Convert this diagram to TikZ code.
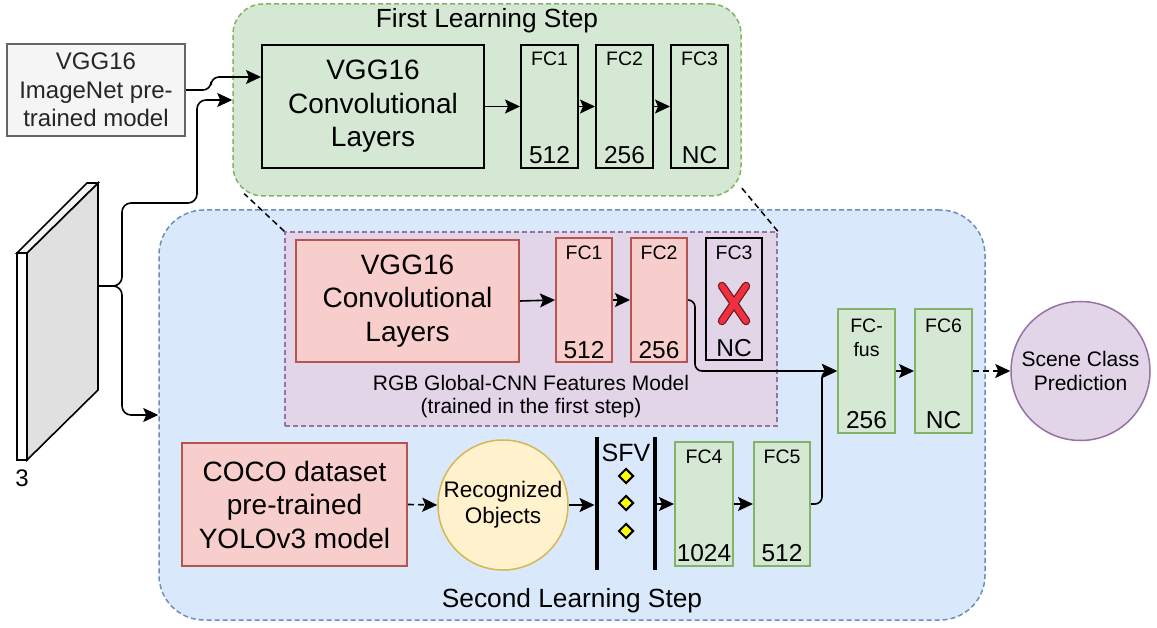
\documentclass[tikz,border=0pt]{standalone}
\usepackage{fontspec}
\setmainfont{Liberation Sans}
\usetikzlibrary{shapes.geometric,arrows.meta,calc}
\definecolor{grfill}{HTML}{D5E8D4}
\definecolor{grline}{HTML}{82B366}
\definecolor{blfill}{HTML}{DAE8FC}
\definecolor{blline}{HTML}{6C8EBF}
\definecolor{pufill}{HTML}{E1D5E7}
\definecolor{puline}{HTML}{9673A6}
\definecolor{pkfill}{HTML}{F8CECC}
\definecolor{pkline}{HTML}{B85450}
\definecolor{yefill}{HTML}{FFF2CC}
\definecolor{yeline}{HTML}{D6B656}
\definecolor{gyfill}{HTML}{F5F5F5}
\definecolor{gyline}{HTML}{666666}
\definecolor{xred}{HTML}{F0303F}
\definecolor{xdark}{HTML}{6A1A20}
\definecolor{diayel}{HTML}{FFFF00}
\begin{document}
\begin{tikzpicture}[x=1pt,y=-1pt,
  box/.style={draw, rectangle, inner sep=0pt, line width=2pt},
  fcbox/.style={box, minimum width=57pt, minimum height=123pt},
  greenbox/.style={fcbox, fill=grfill, draw=grline},
  pinkbox/.style={box, fill=pkfill, draw=pkline},
  txt/.style={inner sep=0pt, align=center},
  bigtxt/.style={txt, font=\fontsize{28}{33.5}\selectfont},
  fclab/.style={txt, font=\fontsize{19.5}{24}\selectfont},
  numlab/.style={txt, font=\fontsize{24.5}{28}\selectfont},
  titletxt/.style={txt, font=\fontsize{26.3}{30}\selectfont},
  arr/.style={-{Stealth[length=15pt,width=14pt,inset=3pt]}, line width=1.6pt},
  grp/.style={rectangle, dashed, dash pattern=on 5pt off 3pt, line width=1.5pt, inner sep=0pt}
]
\useasboundingbox (0,0) rectangle (1157,628);
\fill[white] (0,0) rectangle (1157,628);

% ---------- groups ----------
\node[grp, draw=grline, fill=grfill, rounded corners=30pt, minimum width=508pt, minimum height=192pt] (grn) at (487,100) {};
\node[titletxt] (t1) at (487,21) {First Learning Step};

\node[grp, draw=blline, fill=blfill, rounded corners=45pt, minimum width=826pt, minimum height=410pt] (blue) at (572,415) {};
\node[titletxt] (t2) at (572,601) {Second Learning Step};

\node[grp, draw=puline, fill=pufill, minimum width=492pt, minimum height=194pt] (pur) at (531,329) {};

\draw[dashed, dash pattern=on 6pt off 4pt, line width=1.5pt] (pur.north west) -- ([xshift=12pt,yshift=3pt]grn.south west);
\draw[dashed, dash pattern=on 6pt off 4pt, line width=1.5pt] (pur.north east) -- ([xshift=-1pt,yshift=10pt]grn.south east);

% ---------- input ----------
\node[box, fill=gyfill, draw=gyline, minimum width=178pt, minimum height=92pt, font=\fontsize{24}{28.5}\selectfont, align=center, text=black!85] (gray) at (96,90) {VGG16\\ImageNet pre-\\trained model};

\draw[line width=1.6pt, fill=white] (17,253) rectangle (27,460);
\draw[line width=1.6pt, fill=black!12] (27,253) -- (98,183) -- (98,390) -- (27,460) -- cycle;
\draw[line width=1.6pt, fill=black!4] (17,253) -- (87,183) -- (98,183) -- (27,253) -- cycle;
\coordinate (slabout) at (98,286);
\node[txt, font=\fontsize{24}{28}\selectfont] (three) at (22,478) {3};

% ---------- first step ----------
\node[box, fill=grfill, minimum width=222pt, minimum height=123pt] (vggA) at (373,106.5) {};
\node[bigtxt] at (vggA) {VGG16\\Convolutional\\Layers};
\node[fcbox, fill=grfill] (a1) at (549.5,106.5) {};
\node[fcbox, fill=grfill] (a2) at (624.5,106.5) {};
\node[fcbox, fill=grfill] (a3) at (699.5,106.5) {};
\foreach \n/\t/\b in {a1/FC1/512, a2/FC2/256, a3/FC3/NC}{
  \node[fclab] at ([yshift=-15pt]\n.north) {\t};
  \node[numlab] at ([yshift=14pt]\n.south) {\b};
}
\draw[arr] (vggA.east) -- (a1.west);
\draw[arr] (a1.east) -- (a2.west);
\draw[arr] (a2.east) -- (a3.west);

% ---------- second step: global CNN ----------
\node[pinkbox, minimum width=223pt, minimum height=122pt] (vggB) at (407.5,301) {};
\node[bigtxt] at (vggB) {VGG16\\Convolutional\\Layers};
\node[pinkbox, minimum width=56pt, minimum height=124pt] (p1) at (584,300) {};
\node[pinkbox, minimum width=56pt, minimum height=124pt] (p2) at (659,300) {};
\node[box, minimum width=56pt, minimum height=122pt] (p3) at (734,299) {};
\foreach \n/\t/\b in {p1/FC1/512, p2/FC2/256, p3/FC3/NC}{
  \node[fclab] at ([yshift=-16pt]\n.north) {\t};
  \node[numlab] at ([yshift=13pt]\n.south) {\b};
}
\draw[line width=8.5pt, line cap=round, xdark] (722,286) -- (746,321) (746,286) -- (722,321);
\draw[line width=6pt, line cap=round, xred] (722,286) -- (746,321) (746,286) -- (722,321);
\draw[arr] (vggB.east) -- (p1.west);
\draw[arr] (p1.east) -- (p2.west);
\node[txt, font=\fontsize{21}{23}\selectfont] (cap) at (531,396.5) {RGB Global-CNN Features Model\\(trained in the first step)};

% ---------- fusion ----------
\node[greenbox] (fus) at (866.5,371) {};
\node[greenbox] (f6) at (943.5,371) {};
\node[fclab] at ([yshift=-29pt]fus.north) {FC-\\fus};
\node[numlab] at ([yshift=13pt]fus.south) {256};
\node[fclab] at ([yshift=-17pt]f6.north) {FC6};
\node[numlab] at ([yshift=13pt]f6.south) {NC};
\node[circle, draw=puline, fill=pufill, line width=1.5pt, minimum size=139pt, inner sep=0pt, align=center, font=\fontsize{21}{24}\selectfont] (scene) at (1080.5,371) {Scene Class\\Prediction};

% ---------- objects branch ----------
\node[pinkbox, minimum width=225pt, minimum height=123pt] (coco) at (294.5,504.5) {};
\node[bigtxt] at (coco) {COCO dataset\\pre-trained\\YOLOv3 model};
\node[circle, draw=yeline, fill=yefill, line width=1.5pt, minimum size=130pt, inner sep=0pt, align=center, font=\fontsize{22.5}{26}\selectfont] (rec) at (503,505) {Recognized\\Objects};
\node[rectangle, fill=black, inner sep=0pt, minimum width=4.5pt, minimum height=133pt] (sfvL) at (597,503.5) {};
\node[rectangle, fill=black, inner sep=0pt, minimum width=4.5pt, minimum height=133pt] (sfvR) at (655,503.5) {};
\node[txt, font=\fontsize{25}{28}\selectfont] (sfv) at (626,453) {SFV};
\foreach \y/\nm in {476/d1, 503/d2, 531/d3}{
  \node[diamond, draw=black, fill=diayel, line width=2pt, inner sep=0pt, minimum size=15pt] (\nm) at (626,\y) {};
}
\node[greenbox, minimum width=58pt, minimum height=124pt] (g4) at (704,504) {};
\node[greenbox, minimum width=56pt, minimum height=124pt] (g5) at (782,504) {};
\foreach \n/\t/\b in {g4/FC4/1024, g5/FC5/512}{
  \node[fclab] at ([yshift=-16pt]\n.north) {\t};
  \node[numlab] at ([yshift=14pt]\n.south) {\b};
}

% ---------- connectors ----------
\draw[arr, rounded corners=8pt] (gray.east) -- ++(25,0) |- ([yshift=29.5pt]vggA.west);
\draw[arr, rounded corners=9pt] (slabout) -| (122,203) -| (197,100) -- (grn.west);
\draw[arr, rounded corners=9pt] (slabout) -| (122,415) -- (blue.west);
\draw[arr, rounded corners=7pt] (p2.east) -- ++(7,0) |- (fus.west);
\draw[arr, rounded corners=7pt] (g5.east) -- ++(11,0) |- (fus.west);
\draw[arr] (fus.east) -- (f6.west);
\draw[arr, dashed, dash pattern=on 6pt off 4pt] (f6.east) -- (scene.west);
\draw[arr, dashed, dash pattern=on 6pt off 4pt] (coco.east) -- (rec.west);
\draw[arr] (rec.east) -- (rec.east -| sfvL.west);
\draw[arr] (sfvR.east |- g4.west) -- (g4.west);
\draw[arr] (g4.east) -- (g5.west);
\end{tikzpicture}
\end{document}
